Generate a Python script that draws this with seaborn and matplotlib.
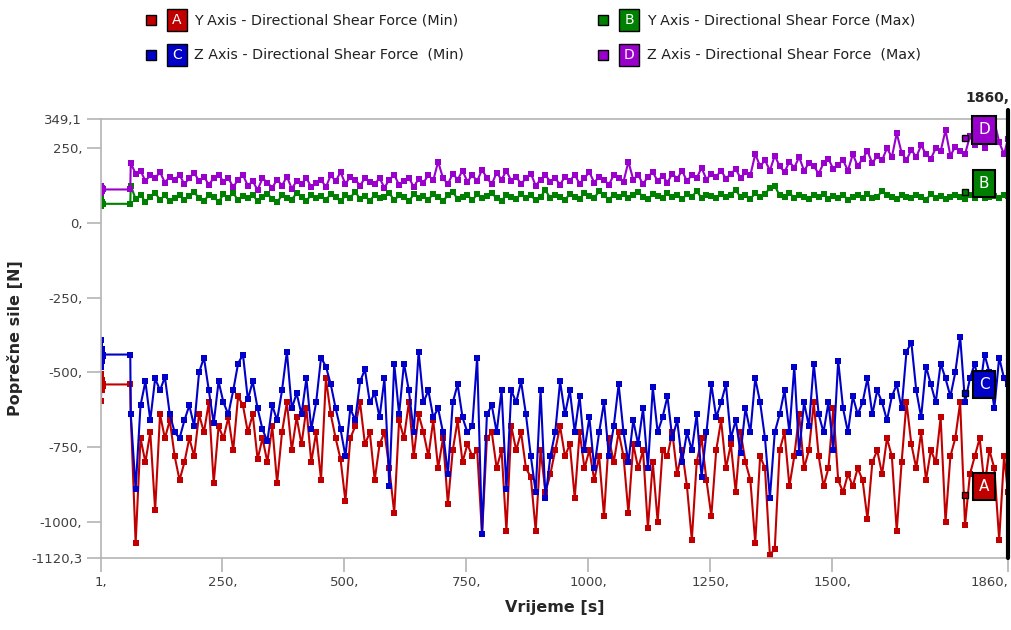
import numpy as np
import pandas as pd
import matplotlib
matplotlib.use('Agg')
import matplotlib.pyplot as plt
import seaborn as sns
from matplotlib.patches import Rectangle

# Style Setting
sns.set_style("white")
plt.rcParams['font.family'] = ['DejaVu Sans']

### Data ###
# time stamps: a few start samples, then every 10 s up to 1860
time_s = [1, 2, 3, 4, 5, 6, 61] + list(range(62, 1860, 10)) + [1860]

y_min = [-595, -505, -560, -525, -545, -540, -540,
         -640, -1070, -720, -800, -700, -960, -640, -720, -660, -780,
         -860, -800, -720, -780, -640, -700, -600, -870, -680, -720,
         -650, -760, -580, -610, -700, -640, -790, -720, -800, -680,
         -870, -700, -600, -760, -650, -740, -620, -800, -700, -860,
         -520, -640, -720, -790, -930, -720, -680, -600, -740, -700,
         -860, -740, -700, -820, -970, -660, -720, -600, -780, -640,
         -700, -780, -660, -820, -720, -940, -760, -660, -800, -740,
         -780, -760, -1040, -720, -700, -820, -760, -1030, -680, -760,
         -700, -820, -850, -1030, -760, -900, -840, -760, -680, -780,
         -740, -920, -700, -820, -760, -860, -780, -980, -720, -800,
         -700, -780, -970, -740, -820, -760, -1020, -800, -1000, -760,
         -780, -700, -840, -760, -880, -1060, -800, -720, -860, -980,
         -760, -660, -820, -740, -900, -700, -800, -860, -1070, -780,
         -820, -1110, -1090, -760, -700, -880, -780, -640, -820, -760,
         -600, -780, -880, -820, -620, -860, -900, -840, -880, -820,
         -860, -990, -800, -760, -840, -720, -780, -1030, -800, -600,
         -740, -820, -700, -860, -760, -800, -650, -1000, -780, -720,
         -600, -1010, -840, -780, -720, -880, -760, -820, -1060, -780,
         -900]

y_max = [58, 80, 62, 70, 64, 64, 64,
         125, 80, 95, 70, 88, 100, 78, 92, 72, 85,
         95, 78, 90, 102, 84, 75, 92, 88, 70, 96,
         84, 100, 76, 90, 82, 95, 72, 88, 98, 80,
         70, 92, 85, 78, 100, 88, 74, 95, 82, 90,
         76, 98, 86, 72, 92, 84, 105, 80, 90, 74,
         94, 82, 88, 100, 76, 92, 86, 72, 96, 84,
         90, 78, 98, 86, 74, 92, 104, 80, 88, 94,
         76, 96, 84, 90, 100, 82, 74, 94, 88, 80,
         98, 84, 92, 76, 88, 110, 82, 94, 86, 78,
         96, 88, 80, 100, 90, 84, 106, 92, 78, 94,
         86, 98, 82, 92, 104, 88, 80, 96, 90, 84,
         100, 86, 92, 80, 96, 88, 106, 84, 94, 90,
         82, 98, 88, 94, 110, 86, 92, 80, 100, 88,
         96, 118, 124, 92, 86, 100, 84, 94, 88, 80,
         92, 86, 98, 80, 90, 84, 94, 78, 88, 92,
         84, 96, 82, 88, 106, 92, 86, 80, 94, 88,
         82, 92, 86, 78, 96, 84, 90, 80, 88, 94,
         86, 80, 92, 84, 96, 82, 88, 90, 84, 94,
         90]

z_min = [-480, -390, -460, -420, -445, -440, -440,
         -640, -890, -610, -530, -660, -520, -560, -515, -640, -700,
         -720, -660, -610, -680, -500, -450, -560, -670, -530, -600,
         -640, -560, -470, -440, -590, -530, -620, -690, -730, -610,
         -660, -560, -430, -620, -570, -640, -520, -690, -600, -450,
         -480, -540, -620, -690, -780, -620, -660, -530, -490, -600,
         -570, -650, -520, -880, -470, -640, -470, -560, -700, -430,
         -600, -560, -650, -620, -700, -840, -600, -540, -650, -700,
         -680, -450, -1040, -640, -610, -700, -560, -890, -560, -600,
         -530, -640, -780, -900, -560, -920, -780, -700, -530, -640,
         -560, -700, -580, -760, -650, -820, -700, -600, -780, -680,
         -540, -700, -800, -660, -740, -620, -820, -550, -700, -650,
         -580, -720, -660, -800, -700, -760, -640, -850, -700, -540,
         -650, -600, -540, -720, -660, -770, -620, -700, -520, -600,
         -720, -920, -700, -640, -560, -700, -480, -770, -600, -680,
         -470, -640, -700, -600, -760, -460, -620, -700, -580, -640,
         -600, -520, -640, -560, -600, -660, -580, -540, -620, -430,
         -400, -560, -650, -480, -540, -600, -470, -520, -580, -500,
         -380, -600, -520, -470, -560, -440, -500, -620, -450, -520,
         -540]

z_max = [125, 100, 118, 108, 112, 112, 112,
         200, 165, 175, 140, 160, 150, 170, 135, 155, 145,
         160, 130, 150, 168, 140, 155, 128, 150, 162, 138,
         150, 120, 145, 160, 125, 140, 110, 150, 135, 118,
         145, 125, 155, 115, 140, 130, 150, 120, 135, 145,
         120, 160, 140, 170, 130, 155, 145, 125, 150, 138,
         130, 150, 118, 145, 160, 128, 140, 152, 120, 148,
         135, 160, 142, 205, 150, 130, 165, 145, 175, 138,
         160, 140, 178, 150, 130, 168, 145, 175, 140, 155,
         130, 150, 165, 125, 145, 160, 138, 150, 128, 155,
         140, 162, 130, 150, 170, 135, 155, 145, 128, 160,
         150, 138, 205, 145, 160, 130, 155, 170, 140, 158,
         135, 165, 148, 175, 140, 160, 150, 185, 145, 165,
         155, 175, 148, 165, 180, 150, 170, 160, 230, 190,
         210, 175, 225, 190, 170, 205, 185, 220, 175, 200,
         190, 165, 200, 215, 180, 195, 210, 175, 230, 190,
         215, 240, 200, 225, 210, 250, 220, 300, 235, 210,
         245, 220, 260, 230, 215, 250, 240, 310, 225, 255,
         240, 230, 290, 260, 320, 250, 300, 340, 270, 230,
         280]

series_names = ['A', 'B', 'C', 'D']
series_labels = ['Y Axis - Directional Shear Force (Min)',
                 'Y Axis - Directional Shear Force (Max)',
                 'Z Axis - Directional Shear Force  (Min)',
                 'Z Axis - Directional Shear Force  (Max)']
colors = {'A': '#c00000', 'B': '#008000', 'C': '#0000c8', 'D': '#9900cc'}

x_ticks = [1, 250, 500, 750, 1000, 1250, 1500, 1860]
x_ticklabels = ['1,', '250,', '500,', '750,', '1000,', '1250,', '1500,', '1860,']
y_ticks = [349.1, 250, 0, -250, -500, -750, -1000, -1120.3]
y_ticklabels = ['349,1', '250,', '0,', '-250,', '-500,', '-750,', '-1000,', '-1120,3']

# long table for seaborn
frames = []
for name, vals in zip(series_names, [y_min, y_max, z_min, z_max]):
    frames.append(pd.DataFrame({'t': time_s, 'value': vals, 'series': name}))
df = pd.concat(frames, ignore_index=True)

fig = plt.figure(figsize=(10.11, 6.3), dpi=100)
ax = fig.add_axes([0.0999, 0.1143, 0.8971, 0.6975])

sns.lineplot(data=df, x='t', y='value', hue='series', palette=colors,
             style='series', markers={s: 's' for s in series_names}, dashes=False,
             sort=False, estimator=None, legend=False, linewidth=1.5,
             markersize=4, markeredgewidth=0, ax=ax)

ax.set_xlim(1, 1860)
ax.set_ylim(-1120.3, 349.1)

# axes styling
for side in ['left', 'bottom', 'top']:
    ax.spines[side].set_color('#b4b4b4')
    ax.spines[side].set_linewidth(1.2)
ax.spines['right'].set_visible(False)
ax.set_xticks(x_ticks)
ax.set_xticklabels(x_ticklabels)
ax.set_yticks(y_ticks)
ax.set_yticklabels(y_ticklabels)
ax.tick_params(axis='both', which='major', length=10, width=1.2, color='#b4b4b4',
               labelcolor='#404040', labelsize=9.5, direction='out', left=True, bottom=True)
ax.tick_params(axis='x', pad=3)
ax.get_xticklabels()[-1].set_horizontalalignment('right')

ax.set_xlabel('Vrijeme [s]', fontsize=11.5, fontweight='bold')
ax.set_ylabel('Poprečne sile [N]', fontsize=11.5, fontweight='bold')
ax.xaxis.set_label_coords(0.5, -0.095)
ax.yaxis.set_label_coords(-0.086, 0.5)

# cursor line at the end
ax.plot([1860, 1860], [-1120.3, 378], color='black', linewidth=3, clip_on=False, zorder=5)
ax.text(1862, 418, '1860,', ha='right', va='center', fontsize=10, fontweight='bold')

# series tags at the right end
tag_pos = {'D': 311, 'B': 131, 'C': -539, 'A': -880}
for name in series_names:
    yv = tag_pos[name]
    ax.plot([1772], [yv - 28], marker='s', markersize=5, color=colors[name],
            markeredgecolor='black', markeredgewidth=1, zorder=6)
    ax.text(1811, yv, name, ha='center', va='center', color='white', fontsize=11,
            zorder=7, bbox=dict(boxstyle='square,pad=0.4', facecolor=colors[name],
                                edgecolor='black', linewidth=1.5))

# legend on top
leg_cols = [(146, 167, 194), (598, 619, 647)]
leg_rows = [20, 55]
order = [('A', 0, 0), ('B', 1, 0), ('C', 0, 1), ('D', 1, 1)]
W, H = 1011.0, 630.0
for name, col, row in order:
    sq_x, box_x, txt_x = leg_cols[col]
    yc = leg_rows[row]
    fig.patches.append(Rectangle((sq_x / W, 1 - (yc + 5) / H), 10 / W, 10 / H,
                                 transform=fig.transFigure, facecolor=colors[name],
                                 edgecolor='black', linewidth=1))
    fig.patches.append(Rectangle((box_x / W, 1 - (yc + 11) / H), 20 / W, 22 / H,
                                 transform=fig.transFigure, facecolor=colors[name],
                                 edgecolor='black', linewidth=1))
    fig.text((box_x + 10) / W, 1 - yc / H, name, ha='center', va='center',
             color='white', fontsize=10)
    fig.text(txt_x / W, 1 - yc / H, series_labels[series_names.index(name)],
             ha='left', va='center', fontsize=10.3, color='#202020')

fig.savefig('out.png', dpi=100)
